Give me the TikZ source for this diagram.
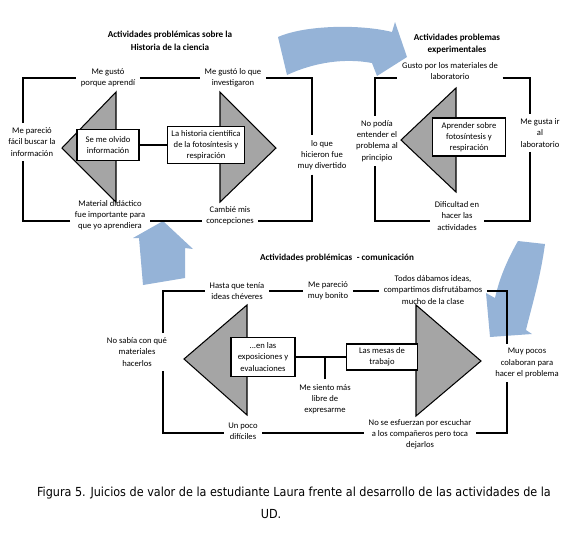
\documentclass[tikz,border=0pt]{standalone}
\usepackage{fontspec}
\setmainfont{Carlito}
\newfontfamily\capfont{DejaVu Sans Condensed}
\usepackage{xcolor}
\definecolor{ArrowBlue}{RGB}{149, 179, 215}
\definecolor{TriGray}{RGB}{165, 165, 165}

\begin{document}
\begin{tikzpicture}[x=0.02cm, y=-0.02cm,
    txt/.style={align=center, font=\fontsize{4.9}{6.4}\selectfont, inner sep=2.5pt},
    ttl/.style={align=center, font=\fontsize{5.2}{7.2}\selectfont\bfseries},
    box/.style={draw=black, fill=white, line width=0.9pt, align=center, inner sep=1pt, font=\fontsize{4.9}{6.4}\selectfont},
    tri/.style={draw=black, fill=TriGray, line width=0.6pt},
    frame/.style={line width=1pt},
    link/.style={line width=0.6pt},
    bigarrow/.style={fill=ArrowBlue, draw=none},
    capt/.style={font=\capfont\fontsize{7.1}{9}\selectfont}]
    \useasboundingbox (0,0) rectangle (568,539);

    % Blue arrows
    \fill[bigarrow] (278,37) .. controls (305,25) and (360,24) .. (392,32) -- (395,22) -- (407,57) -- (377,76) -- (372,63) .. controls (345,58) and (315,62) .. (287,75) -- cycle;
    \fill[bigarrow] (163,221) -- (193,249) -- (185,248) -- (185,278) -- (143,285) -- (139,238) -- (133,238) -- cycle;
    \fill[bigarrow] (518,241) -- (545,244) .. controls (540,280) and (532,305) .. (526,330) -- (532,334) -- (490,337) -- (486,293) -- (495,298) .. controls (500,275) and (510,255) .. (518,241) -- cycle;

    % Historia de la ciencia
    \node[ttl] (hist) at (170,41) {Actividades problémicas sobre la\\Historia de la ciencia};
    \draw[tri] (116,92) -- (62,148) -- (116,202) -- cycle;
    \draw[tri] (220,92) -- (276,148) -- (220,202) -- cycle;
    \node[box, minimum width=1.24cm, minimum height=0.62cm] (olvido) at (108,145) {Se me olvido\\información};
    \node[box, minimum width=1.54cm, minimum height=0.74cm] (historia) at (206,145) {La historia científica\\de la fotosíntesis y\\respiración};
    \draw[link] (olvido.east) -- (historia.west);
    \node[txt] (aprendi) at (108,78) {Me gustó\\porque aprendí};
    \node[txt] (investig) at (233,78) {Me gustó lo que\\investigaron};
    \node[txt] (divertido) at (322,155) {lo que\\hicieron fue\\muy divertido};
    \node[txt] (concep) at (230,216) {Cambié mis\\concepciones};
    \node[txt] (material) at (110,215) {Material didáctico\\fue importante para\\que yo aprendiera};
    \node[txt] (facil) at (32,142) {Me pareció\\fácil buscar la\\información};
    \coordinate (h1tl) at (23,78);
    \coordinate (h1tr) at (312,78);
    \coordinate (h1br) at (312,221);
    \coordinate (h1bl) at (23,221);
    \draw[frame] (facil.north -| h1tl) -- (h1tl) -- (aprendi.west);
    \draw[frame] (aprendi.east) -- (investig.west);
    \draw[frame] (investig.east) -- (h1tr) -- (divertido.north -| h1tr);
    \draw[frame] (divertido.south -| h1tr) -- (h1br) -- (concep.east |- h1br);
    \draw[frame] (concep.west |- h1bl) -- (material.east |- h1bl);
    \draw[frame] (material.west |- h1bl) -- (h1bl) -- (facil.south -| h1bl);

    % Problemas experimentales
    \node[ttl] (expe) at (457,44) {Actividades problemas\\experimentales};
    \draw[tri] (456,88) -- (401,140) -- (456,192) -- cycle;
    \node[box, minimum width=1.46cm, minimum height=0.76cm] (aprender) at (469,137) {Aprender sobre\\fotosíntesis y\\respiración};
    \node[txt] (gusto) at (450,71) {Gusto por los materiales de\\laboratorio};
    \node[txt] (entender) at (377,141) {No podía\\entender el\\problema al\\principio};
    \node[txt] (gustaIr) at (540,133) {Me gusta ir\\al\\laboratorio};
    \node[txt] (dificultad) at (457,216) {Dificultad en\\hacer las\\actividades};
    \coordinate (e2tl) at (375,78);
    \coordinate (e2tr) at (530,78);
    \coordinate (e2br) at (530,221);
    \coordinate (e2bl) at (375,221);
    \draw[frame] (entender.north -| e2tl) -- (e2tl) -- (gusto.west |- e2tl);
    \draw[frame] (gusto.east |- e2tr) -- (e2tr) -- (gustaIr.north -| e2tr);
    \draw[frame] (gustaIr.south -| e2tr) -- (e2br) -- (dificultad.east |- e2br);
    \draw[frame] (dificultad.west |- e2bl) -- (e2bl) -- (entender.south -| e2bl);

    % Comunicacion
    \node[ttl] (comu) at (337,258) {Actividades problémicas\enspace- comunicación};
    \draw[tri] (247,305) -- (184,359) -- (247,415) -- cycle;
    \draw[tri] (416,305) -- (481,361) -- (416,416) -- cycle;
    \node[box, minimum width=1.28cm, minimum height=0.78cm] (exposic) at (263,357) {...en las\\exposiciones y\\evaluaciones};
    \node[box, minimum width=1.42cm, minimum height=0.52cm] (mesas) at (382,357) {Las mesas de\\trabajo};
    \node[txt] (siento) at (325,399) {Me siento más\\libre de\\expresarme};
    \draw[link] (exposic.east) -- (mesas.west);
    \draw[link] (siento.north) -- (siento.north |- exposic.east);
    \node[txt] (chevere) at (237,291) {Hasta que tenía\\ideas chéveres};
    \node[txt] (bonito) at (328,291) {Me pareció\\muy bonito};
    \node[txt] (todos) at (433,290) {Todos dábamos ideas,\\compartimos disfrutábamos\\mucho de la clase};
    \node[txt] (sabia) at (137,352) {No sabía con qué\\materiales\\hacerlos};
    \node[txt] (pocos) at (527,363) {Muy pocos\\colaboran para\\hacer el problema};
    \node[txt] (dificiles) at (243,431) {Un poco\\difíciles};
    \node[txt] (esfuerzan) at (420,434) {No se esfuerzan por escuchar\\a los compañeros pero toca\\dejarlos};
    \coordinate (c3tl) at (163,291);
    \coordinate (c3tr) at (507,291);
    \coordinate (c3br) at (507,433);
    \coordinate (c3bl) at (163,433);
    \draw[frame] (sabia.north -| c3tl) -- (c3tl) -- (chevere.west |- c3tl);
    \draw[frame] (chevere.east |- c3tl) -- (bonito.west |- c3tl);
    \draw[frame] (bonito.east |- c3tl) -- (todos.west |- c3tl);
    \draw[frame] (todos.east |- c3tr) -- (c3tr) -- (pocos.north -| c3tr);
    \draw[frame] (pocos.south -| c3tr) -- (c3br) -- (esfuerzan.east |- c3br);
    \draw[frame] (esfuerzan.west |- c3bl) -- (dificiles.east |- c3bl);
    \draw[frame] (dificiles.west |- c3bl) -- (c3bl) -- (sabia.south -| c3bl);

    % Caption
    \node[capt] (caption) at (294,493) {Figura 5. Juicios de valor de la estudiante Laura frente al desarrollo de las actividades de la};
    \node[capt] (ud) at (271,514) {UD.};
\end{tikzpicture}
\end{document}
